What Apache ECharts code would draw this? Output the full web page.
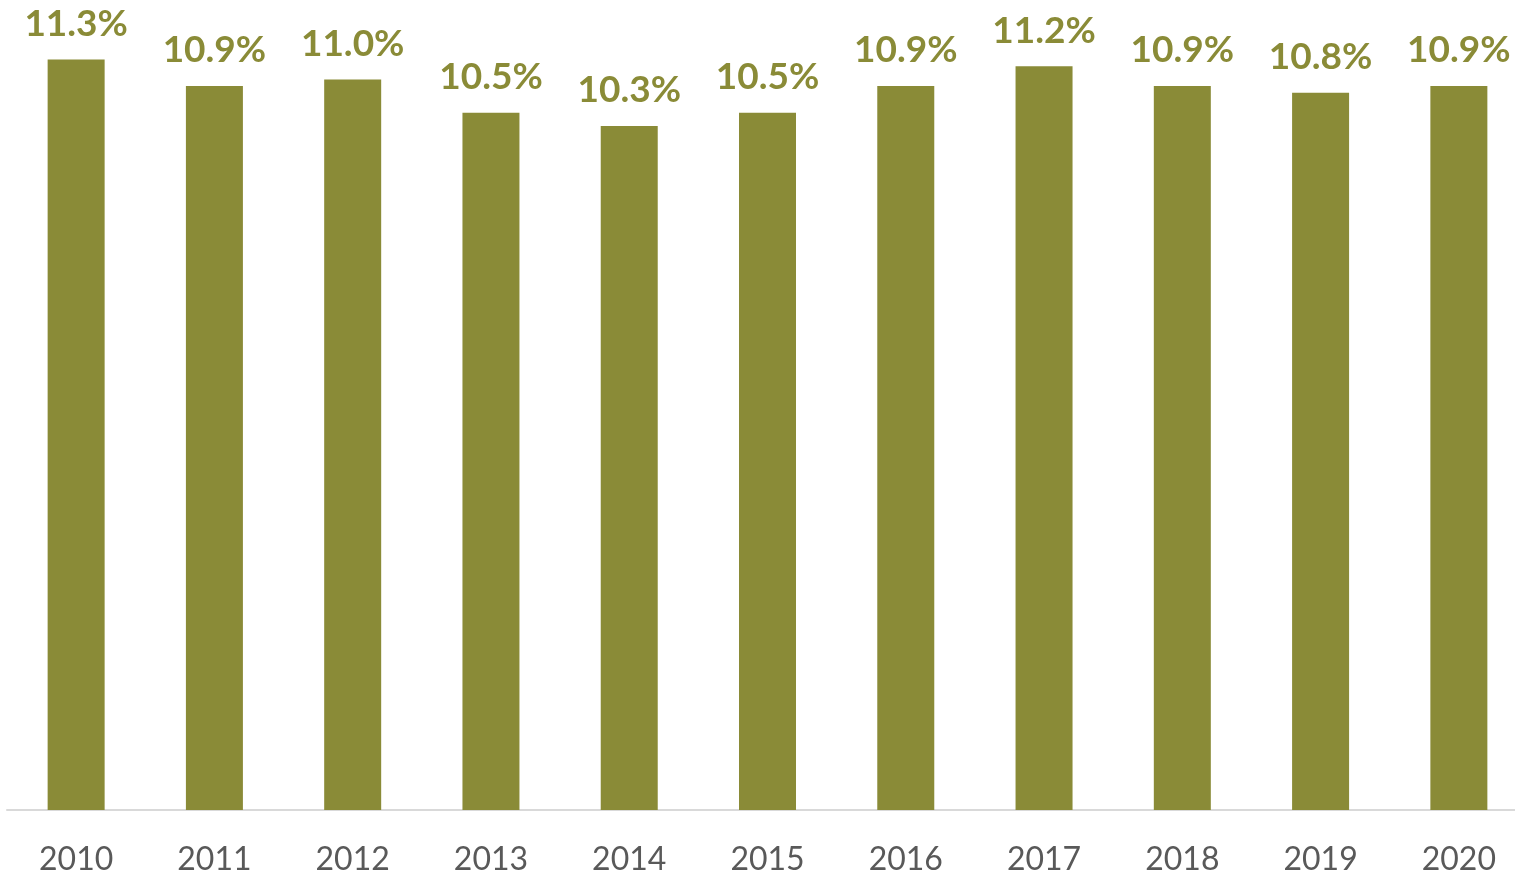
<!DOCTYPE html>
<html>
<head>
<meta charset="utf-8">
<script src="https://cdn.jsdelivr.net/npm/echarts@6/dist/echarts.min.js"></script>
<style>
	html, body { margin: 0; padding: 0; background: #fff; overflow: hidden; }
	/* the plot runs a little past the right edge of the window, as in the reference */
	#chart { width: 1530px; height: 877px; }
</style>
</head>
<body>
<div id="chart"></div>
<script>
	// data
	var years = ['2010', '2011', '2012', '2013', '2014', '2015', '2016', '2017', '2018', '2019', '2020'];
	var shares = [11.3, 10.9, 11.0, 10.5, 10.3, 10.5, 10.9, 11.2, 10.9, 10.8, 10.9];

	var olive = '#8a8b37';

	var option = {
		animation: false,
		grid: {
			left: 7,
			right: 2,
			top: 13,
			bottom: 67,
			containLabel: false
		},
		xAxis: {
			type: 'category',
			data: years,
			axisTick: { show: false },
			axisLine: { lineStyle: { color: '#d9d9d9', width: 2 } },
			axisLabel: {
				color: '#595959',
				fontFamily: 'Lato',
				fontSize: 32,
				margin: 34
			}
		},
		yAxis: {
			type: 'value',
			min: 0,
			max: 12,
			show: false,
			splitLine: { show: false }
		},
		series: [{
			type: 'bar',
			data: shares,
			barWidth: 57,
			itemStyle: { color: olive },
			label: {
				show: true,
				position: 'top',
				distance: 17,
				color: olive,
				fontFamily: 'Lato',
				fontWeight: 'bold',
				fontSize: 37,
				formatter: function(p) { return p.value.toFixed(1) + '%'; }
			}
		}]
	};

	var myChart = echarts.init(document.getElementById('chart'));
	myChart.setOption(option);
</script>
</body>
</html>
